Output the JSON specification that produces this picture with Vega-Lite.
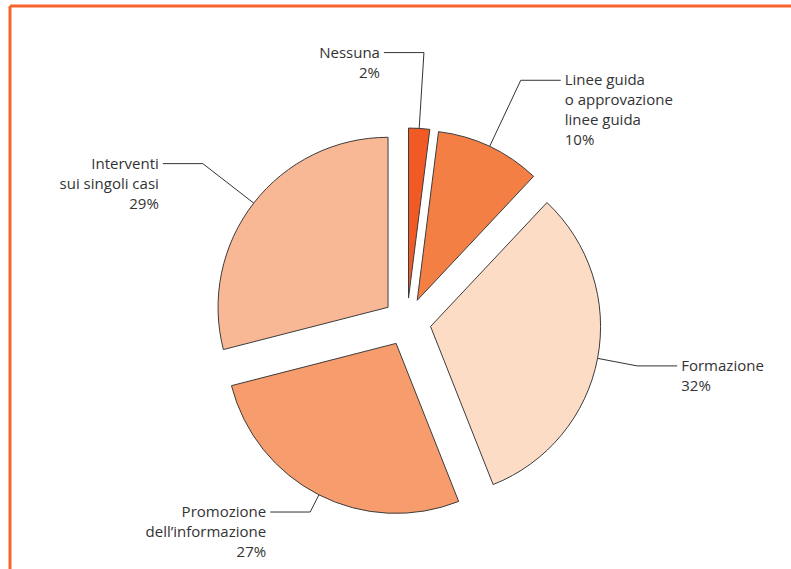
{
  "$schema": "https://vega.github.io/schema/vega-lite/v6.json",
  "width": 791,
  "height": 569,
  "autosize": {"type": "fit", "contains": "padding"},
  "padding": {"left": 10, "top": 6, "right": 0, "bottom": 0},
  "background": "white",
  "view": {"stroke": "#f5652d", "strokeWidth": 3, "strokeDash": [781, 1344, 563, 0]},
  "config": {
    "text": {"font": "Open Sans", "fontSize": 15, "fill": "#333333"}
  },
  "data": {
    "values": [
      {"i": 1, "cat": "Nessuna", "pct": 2, "label": "Nessuna\n2%"},
      {"i": 2, "cat": "Linee guida o approvazione linee guida", "pct": 10, "label": "Linee guida\no approvazione\nlinee guida\n10%"},
      {"i": 3, "cat": "Formazione", "pct": 32, "label": "Formazione\n32%"},
      {"i": 4, "cat": "Promozione dell’informazione", "pct": 27, "label": "Promozione\ndell’informazione\n27%"},
      {"i": 5, "cat": "Interventi sui singoli casi", "pct": 29, "label": "Interventi\nsui singoli casi\n29%"}
    ]
  },
  "transform": [
    {"stack": "pct", "groupby": [], "sort": [{"field": "i", "order": "ascending"}], "as": ["a0", "a1"]}
  ],
  "layer": [
    {
      "mark": {
        "type": "arc",
        "radius": 170,
        "stroke": "#3c3c3c",
        "strokeWidth": 1,
        "x": {"expr": "width/2 + 6.5 + 24*sin(PI*(datum.a0+datum.a1)/100)"},
        "y": {"expr": "height/2 + 34.5 - 24*cos(PI*(datum.a0+datum.a1)/100)"}
      },
      "encoding": {
        "theta": {"field": "a0", "type": "quantitative", "scale": {"domain": [0, 100]}},
        "theta2": {"field": "a1"},
        "color": {
          "field": "cat",
          "type": "nominal",
          "scale": {
            "domain": ["Nessuna", "Linee guida o approvazione linee guida", "Formazione", "Promozione dell’informazione", "Interventi sui singoli casi"],
            "range": ["#f15a24", "#f37f45", "#fddcc6", "#f69c6d", "#f9b895"]
          },
          "legend": null
        }
      }
    },
    {
      "mark": {"type": "rule", "stroke": "#333333", "strokeWidth": 1},
      "encoding": {
        "x": {"value": {"expr": "width/2 + 6.5 + 194*sin(PI*(datum.a0+datum.a1)/100)"}},
        "y": {"value": {"expr": "height/2 + 34.5 - 194*cos(PI*(datum.a0+datum.a1)/100)"}},
        "x2": {"value": {"expr": "width/2 + 6.5 + (240 + 30*cos(PI*(datum.a0+datum.a1)/100))*sin(PI*(datum.a0+datum.a1)/100)"}},
        "y2": {"value": {"expr": "height/2 + 34.5 - (240 + 30*cos(PI*(datum.a0+datum.a1)/100))*cos(PI*(datum.a0+datum.a1)/100)"}}
      }
    },
    {
      "mark": {"type": "rule", "stroke": "#333333", "strokeWidth": 1},
      "encoding": {
        "x": {"value": {"expr": "width/2 + 6.5 + (240 + 30*cos(PI*(datum.a0+datum.a1)/100))*sin(PI*(datum.a0+datum.a1)/100)"}},
        "y": {"value": {"expr": "height/2 + 34.5 - (240 + 30*cos(PI*(datum.a0+datum.a1)/100))*cos(PI*(datum.a0+datum.a1)/100)"}},
        "x2": {"value": {"expr": "width/2 + 6.5 + (240 + 30*cos(PI*(datum.a0+datum.a1)/100))*sin(PI*(datum.a0+datum.a1)/100) + (sin(PI*(datum.a0+datum.a1)/100) < 0.1 ? -40 : 40)"}},
        "y2": {"value": {"expr": "height/2 + 34.5 - (240 + 30*cos(PI*(datum.a0+datum.a1)/100))*cos(PI*(datum.a0+datum.a1)/100)"}}
      }
    },
    {
      "mark": {
        "type": "text",
        "lineBreak": "\n",
        "lineHeight": 20,
        "baseline": "middle",
        "align": {"expr": "sin(PI*(datum.a0+datum.a1)/100) < 0.1 ? 'right' : 'left'"},
        "x": {"expr": "width/2 + 6.5 + (240 + 30*cos(PI*(datum.a0+datum.a1)/100))*sin(PI*(datum.a0+datum.a1)/100) + (sin(PI*(datum.a0+datum.a1)/100) < 0.1 ? -44 : 44)"},
        "y": {"expr": "height/2 + 34.5 - (240 + 30*cos(PI*(datum.a0+datum.a1)/100))*cos(PI*(datum.a0+datum.a1)/100)"}
      },
      "encoding": {
        "text": {"field": "label", "type": "nominal"}
      }
    }
  ]
}
